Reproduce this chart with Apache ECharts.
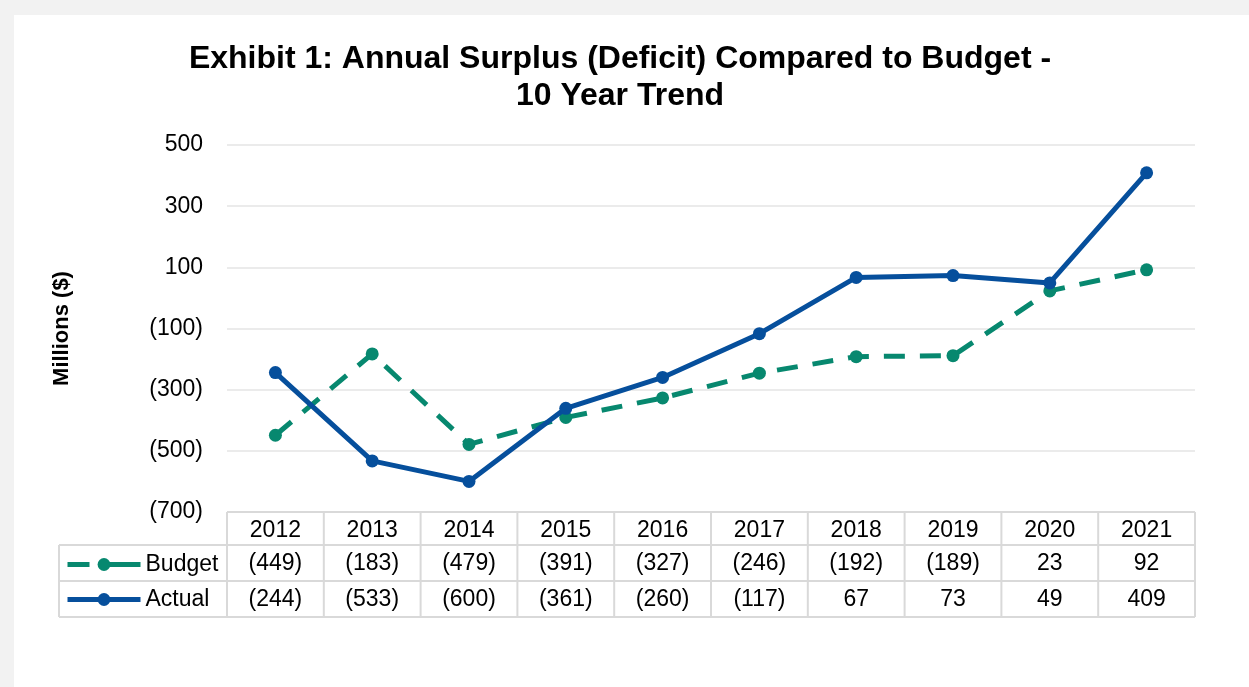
<!DOCTYPE html>
<html>
<head>
<meta charset="utf-8">
<script src="https://cdn.jsdelivr.net/npm/echarts@6/dist/echarts.min.js"></script>
<style>
  html, body { margin: 0; padding: 0; background: #f2f2f2; }
  #main { width: 1249px; height: 687px; }
</style>
</head>
<body>
<div id="main"></div>
<script>
// data
const years = ['2012', '2013', '2014', '2015', '2016', '2017', '2018', '2019', '2020', '2021']
const budget = [-449, -183, -479, -391, -327, -246, -192, -189, 23, 92]
const actual = [-244, -533, -600, -361, -260, -117, 67, 73, 49, 409]
const yTicks = [-700, -500, -300, -100, 100, 300, 500]

const BLUE = '#064f9c'
const TEAL = '#07886f'
const FONT = 'Liberation Sans, Arial, sans-serif'

// (123) for negatives, like the accounting format
function fmt (v) {
  return v < 0 ? '(' + Math.abs(v) + ')' : String(v)
}

const chart = echarts.init(document.getElementById('main'))

chart.setOption({
  backgroundColor: '#f2f2f2',
  animation: false,
  textStyle: { fontFamily: FONT },
  title: {
    text: 'Exhibit 1: Annual Surplus (Deficit) Compared to Budget -\n10 Year Trend',
    left: 620,
    top: 41,
    padding: 0,
    textAlign: 'center',
    textStyle: {
      fontFamily: FONT,
      fontSize: 32,
      fontWeight: 'bold',
      color: '#000',
      lineHeight: 37
    }
  },
  legend: {
    orient: 'vertical',
    left: 65,
    top: 553,
    itemWidth: 73,
    itemHeight: 16,
    itemGap: 12,
    padding: 0,
    textStyle: { fontFamily: FONT, fontSize: 23, color: '#000' },
    lineStyle: { width: 5 },
    data: [
      { name: 'Budget', lineStyle: { width: 5, type: [22, 9, 60], color: TEAL } },
      { name: 'Actual', lineStyle: { width: 5, color: BLUE } }
    ]
  },
  grid: {
    left: 227,
    right: 54,
    top: 145,
    bottom: 175,
    containLabel: false
  },
  xAxis: {
    type: 'category',
    data: years,
    axisLine: { show: false },
    axisTick: { show: false },
    axisLabel: { show: false }
  },
  yAxis: {
    type: 'value',
    min: -700,
    max: 500,
    name: 'Millions ($)',
    nameLocation: 'middle',
    nameGap: 154,
    nameTextStyle: { fontFamily: FONT, fontSize: 22, fontWeight: 'bold', color: '#000' },
    axisLine: { show: false },
    axisTick: { show: false, customValues: yTicks },
    axisLabel: {
      customValues: yTicks,
      margin: 24,
      fontSize: 23,
      color: '#000',
      fontFamily: FONT,
      formatter: fmt
    },
    splitLine: { lineStyle: { color: '#ebebeb', width: 2 } }
  },
  series: [
    {
      name: 'Budget',
      type: 'line',
      data: budget,
      symbol: 'circle',
      symbolSize: 13,
      color: TEAL,
      lineStyle: { width: 5, type: [21, 15], color: TEAL },
      itemStyle: { color: TEAL },
      z: 3
    },
    {
      name: 'Actual',
      type: 'line',
      data: actual,
      symbol: 'circle',
      symbolSize: 13,
      color: BLUE,
      lineStyle: { width: 5, color: BLUE },
      itemStyle: { color: BLUE },
      z: 4
    }
  ]
})

// data table under the plot, columns taken from the category axis
function drawTable () {
  const rows = [512, 545, 581, 617]
  const lineColor = '#d9d9d9'
  const els = [{
    type: 'rect',
    z: -10,
    silent: true,
    shape: { x: 14, y: 15, width: 1249, height: 687 },
    style: { fill: '#fff' }
  }]
  const centers = years.map(function (y) { return chart.convertToPixel({ xAxisIndex: 0 }, y) })
  const band = centers[1] - centers[0]
  const x0 = centers[0] - band / 2
  const x1 = centers[centers.length - 1] + band / 2
  const legendLeft = 59

  function line (ax, ay, bx, by) {
    els.push({
      type: 'line',
      silent: true,
      shape: { x1: ax, y1: ay, x2: bx, y2: by },
      style: { stroke: lineColor, lineWidth: 2 }
    })
  }
  function text (x, y, s) {
    els.push({
      type: 'text',
      silent: true,
      x: x,
      y: y,
      style: {
        text: s,
        fontFamily: FONT,
        fontSize: 23,
        fill: '#000',
        align: 'center',
        verticalAlign: 'middle'
      }
    })
  }

  // horizontal rules
  line(x0, rows[0], x1, rows[0])
  for (let i = 1; i < rows.length; i++) line(legendLeft, rows[i], x1, rows[i])
  // vertical rules
  line(legendLeft, rows[1], legendLeft, rows[3])
  for (let i = 0; i <= years.length; i++) {
    const x = x0 + band * i
    line(x, rows[0], x, rows[3])
  }
  for (let i = 0; i < years.length; i++) {
    text(centers[i], (rows[0] + rows[1]) / 2 + 2, years[i])
    text(centers[i], (rows[1] + rows[2]) / 2 + 1, fmt(budget[i]))
    text(centers[i], (rows[2] + rows[3]) / 2 + 1, fmt(actual[i]))
  }
  chart.setOption({ graphic: { elements: els } })
}
drawTable()
</script>
</body>
</html>
